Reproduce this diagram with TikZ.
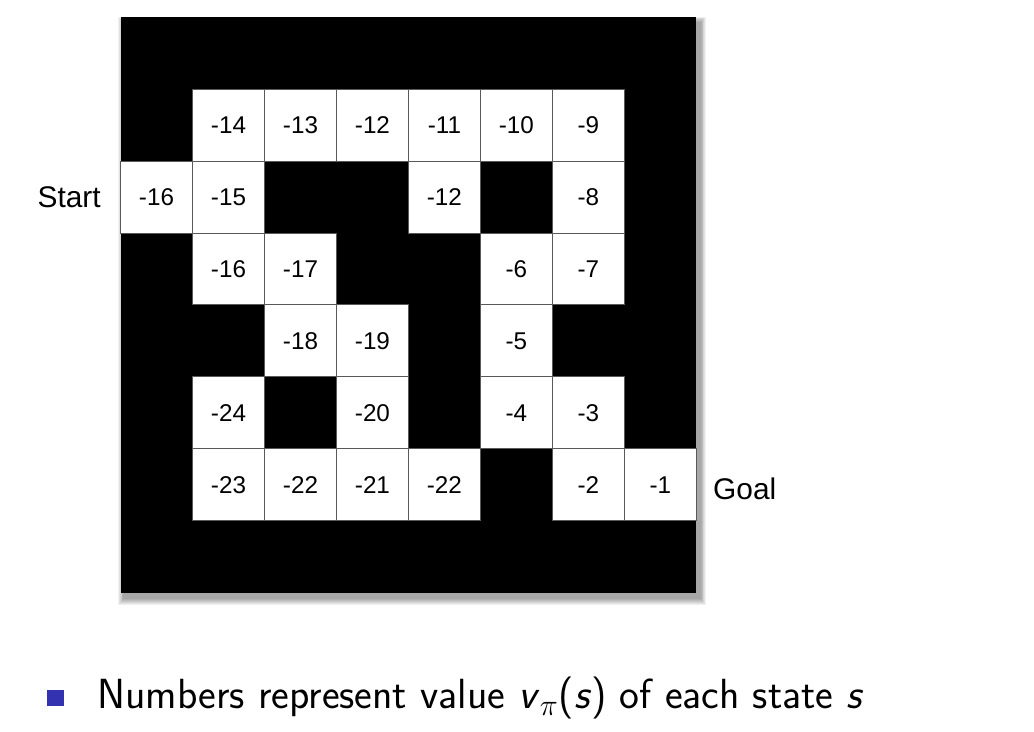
\documentclass[tikz,border=0pt]{standalone}
\usepackage{fontspec}
\setmainfont{Liberation Sans}
\usepackage{tikz}
\usetikzlibrary{positioning}

\definecolor{bulletblue}{RGB}{51,51,178}

\tikzset{
  cell/.style={draw=black!65, line width=0.5pt, fill=white, minimum size=1.44cm,
               inner sep=0pt, font=\fontsize{13.8}{16}\selectfont},
  side/.style={inner sep=0pt, font=\fontsize{17}{20}\selectfont},
}

\begin{document}
\begin{tikzpicture}[x=1.44cm, y=1.44cm]
        \useasboundingbox (-1.674,0.236) rectangle (12.69,-9.93);

        % shadow
        \foreach \s in {1,...,7}
          \fill[black, opacity=0.06] (0.05-0.012*\s,-0.08+0.012*\s) rectangle (8.05+0.012*\s,-8.08-0.012*\s);

        % maze
        \fill[black] (0,0) rectangle (8,-8);
        \foreach \c/\r/\v in {1/1/-14, 2/1/-13, 3/1/-12, 4/1/-11, 5/1/-10, 6/1/-9,
                              0/2/-16, 1/2/-15, 4/2/-12, 6/2/-8,
                              1/3/-16, 2/3/-17, 5/3/-6, 6/3/-7,
                              2/4/-18, 3/4/-19, 5/4/-5,
                              1/5/-24, 3/5/-20, 5/5/-4, 6/5/-3,
                              1/6/-23, 2/6/-22, 3/6/-21, 4/6/-22, 6/6/-2, 7/6/-1}
          \node[cell] (c-\c-\r) at (\c+0.5,-\r-0.5) {\v};

        \node[side, left=0.38cm of c-0-2] (start) {Start};
        \node[side, right=0.32cm of c-7-6, yshift=-2pt] (goal) {Goal};

        % caption
        \fill[bulletblue] (-1.021,-9.347) rectangle (-0.785,-9.569);
        \node[anchor=base west, inner sep=0pt, font=\fontsize{24}{28}\selectfont\sffamily] (caption)
          at (-0.326,-9.61) {Numbers represent value \textit{v}$_\pi$(\textit{s}) of each state \textit{s}};
\end{tikzpicture}
\end{document}
